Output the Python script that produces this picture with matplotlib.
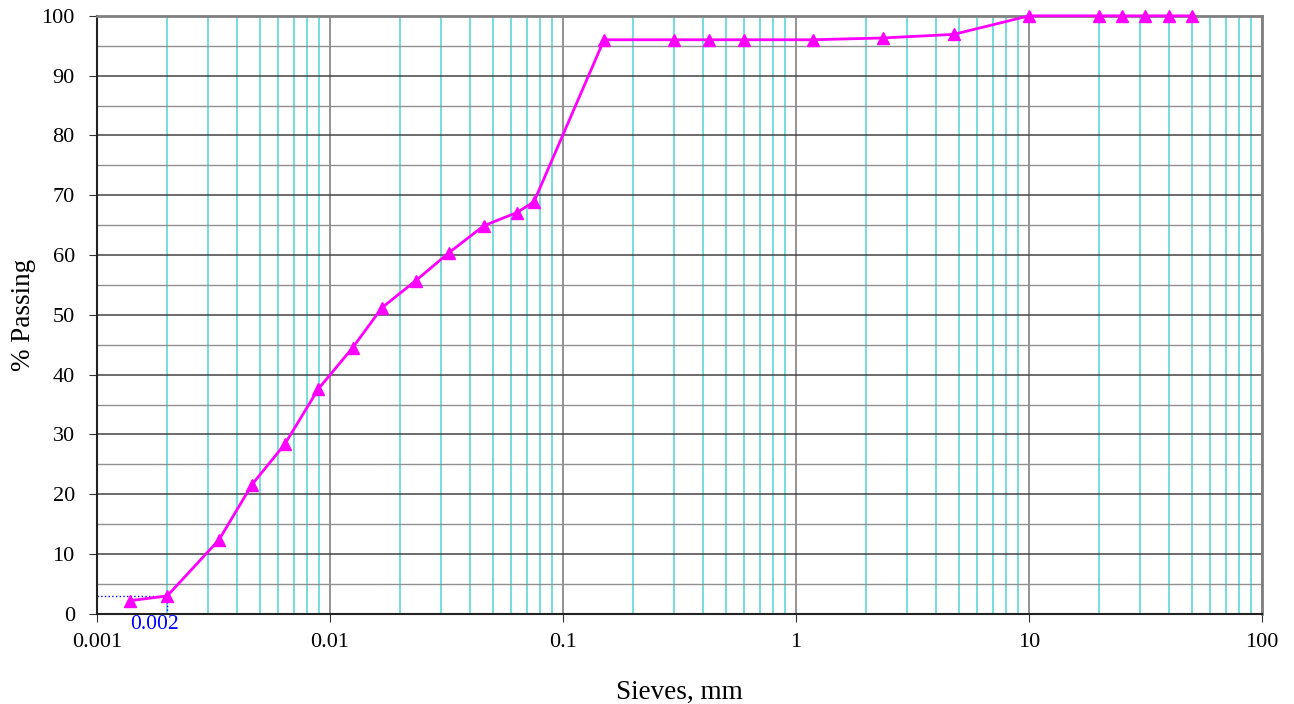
import matplotlib.pyplot as plt
import numpy as np
from matplotlib.ticker import FixedLocator, NullFormatter, FuncFormatter

plt.rcParams['font.family'] = ['Liberation Serif', 'DejaVu Serif']

# ── Grain size distribution (sieve + hydrometer) ─────────────────────────────
sieve_mm = [0.00138, 0.002, 0.00334, 0.00462, 0.0064, 0.0089, 0.0125, 0.0167,
            0.0233, 0.0324, 0.0457, 0.0633, 0.075, 0.15, 0.3, 0.425, 0.6,
            1.18, 2.36, 4.75, 10, 20, 25, 31.5, 40, 50]
passing = [2.2, 3.0, 12.4, 21.6, 28.4, 37.6, 44.5, 51.2, 55.7, 60.4, 64.9,
           67.1, 68.9, 96.0, 96.0, 96.0, 96.0, 96.0, 96.3, 96.9, 100, 100,
           100, 100, 100, 100]

clay_size = 0.002
clay_pct = 3.0

fig = plt.figure(figsize=(12.94, 7.04), dpi=100)
ax = fig.add_axes([0.075, 0.128, 0.9003, 0.8495])

ax.set_xscale('log')
ax.set_xlim(0.001, 100)
ax.set_ylim(0, 100)

# grid lines
minor_x = [m * 10.0 ** e for e in range(-3, 2) for m in range(2, 10)]
ax.xaxis.set_minor_locator(FixedLocator(minor_x))
ax.xaxis.set_minor_formatter(NullFormatter())
ax.yaxis.set_major_locator(FixedLocator(np.arange(0, 101, 10)))
ax.yaxis.set_minor_locator(FixedLocator(np.arange(5, 100, 10)))
ax.grid(True, which='minor', axis='x', color='#6adada', linewidth=1.3)
ax.grid(True, which='major', axis='x', color='#808080', linewidth=1.2)
ax.grid(True, which='major', axis='y', color='#444444', linewidth=1.1)
ax.grid(True, which='minor', axis='y', color='#909090', linewidth=1.0)
ax.set_axisbelow(True)

ax.xaxis.set_major_formatter(FuncFormatter(lambda v, p: f"{v:g}"))
ax.tick_params(axis='both', which='major', direction='out', length=6,
               labelsize=16, color='#333333')
ax.tick_params(axis='x', which='minor', length=0)
ax.tick_params(axis='y', which='minor', length=0)
ax.tick_params(axis='x', which='major', pad=8)
ax.tick_params(axis='y', which='major', pad=10)

for side in ['top', 'right']:
    ax.spines[side].set_color('#808080')
    ax.spines[side].set_linewidth(2)
for side in ['left', 'bottom']:
    ax.spines[side].set_color('#222222')
    ax.spines[side].set_linewidth(1.5)

# D2 marker lines
ax.plot([0.001, clay_size], [clay_pct, clay_pct], color='blue', linestyle=':', linewidth=1)
ax.plot([clay_size, clay_size], [0, clay_pct], color='blue', linestyle=':', linewidth=1)
ax.annotate(f"{clay_size:g}", xy=(clay_size, 0), xytext=(-9, -1),
            textcoords='offset points', ha='center', va='top',
            color='blue', fontsize=15.5)

ax.plot(sieve_mm, passing, color='#ff00ff', linewidth=2, marker='^',
        markersize=8, clip_on=False, zorder=5)

ax.set_xlabel("Sieves, mm", fontsize=19.5, labelpad=20)
ax.set_ylabel("% Passing", fontsize=19.5, labelpad=4)

fig.savefig("out.png", dpi=100)
